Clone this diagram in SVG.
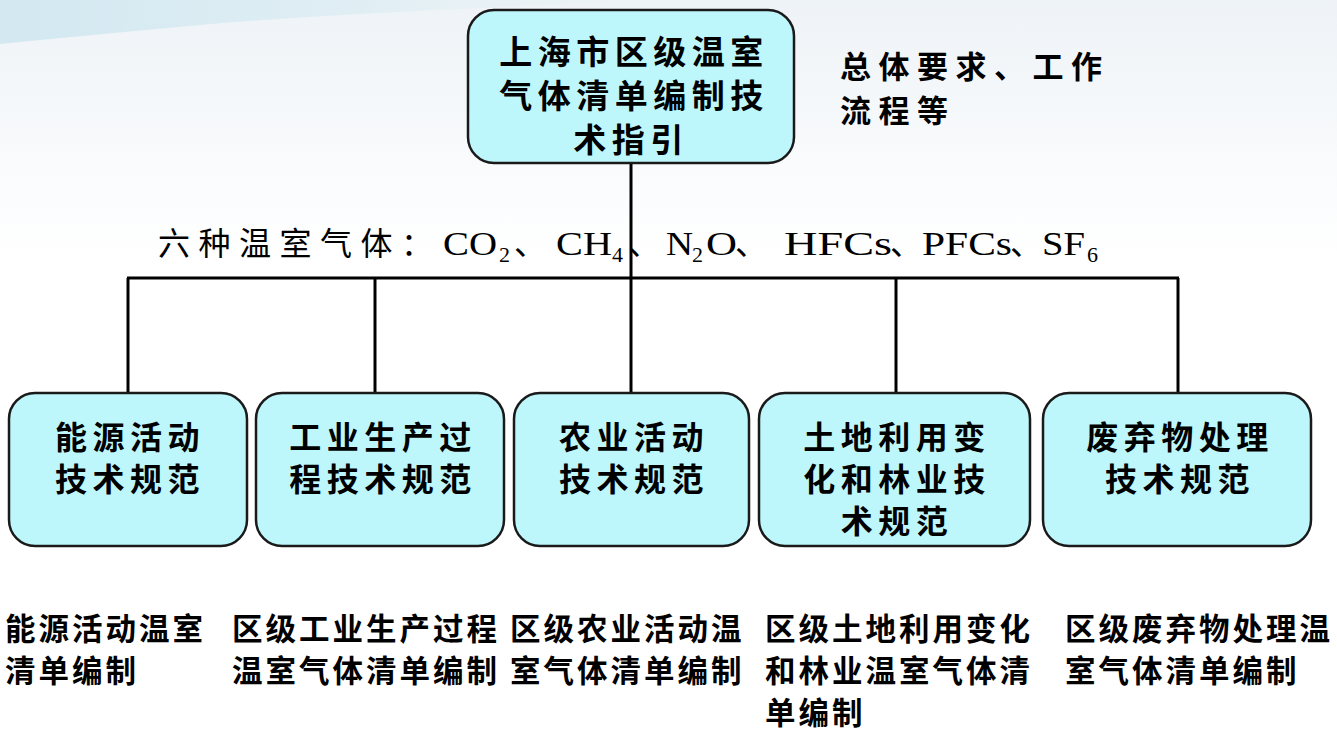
<svg xmlns="http://www.w3.org/2000/svg" width="1337" height="732" viewBox="0 0 1337 732">
<defs>
<linearGradient id="bg" x1="0" y1="0" x2="0" y2="1">
<stop offset="0" stop-color="#eef3f7"/>
<stop offset="0.35" stop-color="#ffffff"/>
<stop offset="1" stop-color="#ffffff"/>
</linearGradient>
<linearGradient id="sw" x1="0" y1="0" x2="1" y2="0">
<stop offset="0" stop-color="#d3e8f1"/>
<stop offset="0.5" stop-color="#e0eef4"/>
<stop offset="1" stop-color="#eef4f8" stop-opacity="0"/>
</linearGradient>
<style>
.box{fill:#bef7fb;stroke:#1a1a1a;stroke-width:2.5}
.conn{stroke:#000;stroke-width:3;fill:none}
.bt{font-family:"Noto Sans CJK SC",sans-serif;font-weight:bold;font-size:32px;letter-spacing:5.5px;fill:#000;text-anchor:middle}
.tt{font-family:"Noto Sans CJK SC",sans-serif;font-weight:bold;font-size:33px;letter-spacing:5.5px;fill:#000;text-anchor:middle}
.note{font-family:"Noto Sans CJK SC",sans-serif;font-weight:bold;font-size:31px;letter-spacing:7.5px;fill:#000}
.cap{font-family:"Noto Sans CJK SC",sans-serif;font-weight:bold;font-size:30.5px;letter-spacing:3px;fill:#000}
.gases{fill:#000}
.gz{font-family:"Noto Sans CJK SC",sans-serif;font-size:32px;letter-spacing:8.5px}
.gp{font-family:"Noto Sans CJK SC",sans-serif;font-size:32px}
.gl{font-family:"Liberation Serif",serif;font-size:34px}
.sub{font-family:"Liberation Serif",serif;font-size:22px}
</style>
</defs>
<rect width="1337" height="732" fill="url(#bg)"/>
<path d="M0 0 H720 Q400 8 200 25 Q80 36 0 44 Z" fill="url(#sw)"/>

<g id="connectors">
<line class="conn" x1="631" y1="163" x2="631" y2="393"/>
<line class="conn" x1="127" y1="278" x2="1179" y2="278"/>
<line class="conn" x1="128" y1="278" x2="128" y2="393"/>
<line class="conn" x1="375" y1="278" x2="375" y2="393"/>
<line class="conn" x1="896" y1="278" x2="896" y2="393"/>
<line class="conn" x1="1178" y1="278" x2="1178" y2="393"/>
</g>

<g id="root">
<rect class="box" x="468" y="10" width="326" height="153" rx="26"/>
<text class="tt" x="634" y="64">上海市区级温室</text>
<text class="tt" x="634" y="108">气体清单编制技</text>
<text class="tt" x="631" y="152">术指引</text>
</g>

<g id="note">
<text class="note" x="840" y="78">总体要求、工作</text>
<text class="note" x="840" y="122">流程等</text>
</g>

<g id="gases">
<text class="gases" y="255"><tspan class="gz" x="158" y="255">六种温室气体：</tspan><tspan class="gl" x="443" y="255" textLength="54" lengthAdjust="spacingAndGlyphs">CO</tspan><tspan class="sub" x="499" y="262">2</tspan><tspan class="gp" x="514" y="255">、</tspan><tspan class="gl" x="556" y="255" textLength="56" lengthAdjust="spacingAndGlyphs">CH</tspan><tspan class="sub" x="612" y="262">4</tspan><tspan class="gp" x="628" y="255">、</tspan><tspan class="gl" x="666" y="255" textLength="27" lengthAdjust="spacingAndGlyphs">N</tspan><tspan class="sub" x="692" y="262">2</tspan><tspan class="gl" x="706" y="255" textLength="31" lengthAdjust="spacingAndGlyphs">O</tspan><tspan class="gp" x="735" y="255">、</tspan><tspan class="gl" x="784" y="255" textLength="108" lengthAdjust="spacingAndGlyphs">HFCs</tspan><tspan class="gp" x="890" y="255">、</tspan><tspan class="gl" x="922" y="255" textLength="90" lengthAdjust="spacingAndGlyphs">PFCs</tspan><tspan class="gp" x="1010" y="255">、</tspan><tspan class="gl" x="1042" y="255" textLength="43" lengthAdjust="spacingAndGlyphs">SF</tspan><tspan class="sub" x="1087" y="262">6</tspan></text>
</g>

<g id="energy">
<rect class="box" x="9" y="393" width="238" height="153" rx="26"/>
<text class="bt" x="130" y="449">能源活动</text>
<text class="bt" x="130" y="491">技术规范</text>
</g>
<g id="industry">
<rect class="box" x="256" y="393" width="248" height="153" rx="26"/>
<text class="bt" x="383" y="449">工业生产过</text>
<text class="bt" x="383" y="491">程技术规范</text>
</g>
<g id="agriculture">
<rect class="box" x="514" y="393" width="235" height="153" rx="26"/>
<text class="bt" x="634" y="449">农业活动</text>
<text class="bt" x="634" y="491">技术规范</text>
</g>
<g id="landuse">
<rect class="box" x="759" y="393" width="271" height="153" rx="26"/>
<text class="bt" x="897" y="449">土地利用变</text>
<text class="bt" x="897" y="491">化和林业技</text>
<text class="bt" x="897" y="533">术规范</text>
</g>
<g id="waste">
<rect class="box" x="1043" y="393" width="268" height="153" rx="26"/>
<text class="bt" x="1180" y="449">废弃物处理</text>
<text class="bt" x="1180" y="491">技术规范</text>
</g>

<g id="captions">
<text class="cap" x="5" y="640">能源活动温室</text>
<text class="cap" x="5" y="682">清单编制</text>
<text class="cap" x="232" y="640">区级工业生产过程</text>
<text class="cap" x="232" y="682">温室气体清单编制</text>
<text class="cap" x="510" y="640">区级农业活动温</text>
<text class="cap" x="510" y="682">室气体清单编制</text>
<text class="cap" x="765" y="640">区级土地利用变化</text>
<text class="cap" x="765" y="682">和林业温室气体清</text>
<text class="cap" x="765" y="724">单编制</text>
<text class="cap" x="1065" y="640">区级废弃物处理温</text>
<text class="cap" x="1065" y="682">室气体清单编制</text>
</g>
</svg>
